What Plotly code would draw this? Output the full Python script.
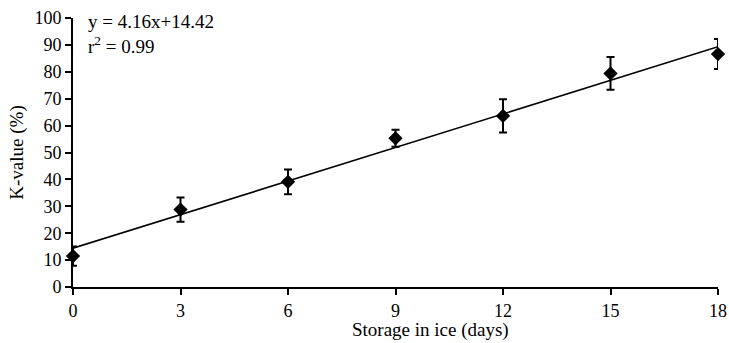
import plotly.graph_objects as go

days = [0, 3, 6, 9, 12, 15, 18]
k_value = [11.5, 28.8, 39.1, 55.3, 63.6, 79.4, 86.6]
k_err = [3.6, 4.5, 4.6, 3.2, 6.2, 6.1, 5.6]
slope = 4.16
intercept = 14.42
fit_x = [0, 18]
fit_y = [intercept + slope * x for x in fit_x]
x_ticks = [0, 3, 6, 9, 12, 15, 18]
y_ticks = list(range(0, 101, 10))

font = "Liberation Serif"

fig = go.Figure()
fig.add_trace(go.Scatter(x=fit_x, y=fit_y, mode="lines",
                         line=dict(color="black", width=1.6), showlegend=False,
                         cliponaxis=False))
fig.add_trace(go.Scatter(x=days, y=k_value, mode="markers",
                         marker=dict(symbol="diamond", size=11, color="black"),
                         error_y=dict(type="data", array=k_err, visible=True,
                                      color="black", thickness=2, width=4),
                         showlegend=False, cliponaxis=False))

fig.add_annotation(x=0, y=1.0, xref="paper", yref="paper", xanchor="left", yanchor="top",
                   xshift=13, yshift=9, showarrow=False, align="left",
                   text="y = 4.16x+14.42<br>r<sup>2</sup> = 0.99",
                   font=dict(family=font, size=19, color="black"))

# x-axis title (sits right of centre in the reference)
fig.add_annotation(x=0.555, y=0, xref="paper", yref="paper", xanchor="center", yanchor="top",
                   yshift=-30, showarrow=False, text="Storage in ice (days)",
                   font=dict(family=font, size=19, color="black"))

fig.update_layout(
    width=729, height=343,
    margin=dict(l=73, r=11, t=18, b=56),
    paper_bgcolor="white", plot_bgcolor="white",
    font=dict(family=font, size=18, color="black"),
)
fig.update_xaxes(range=[0, 18], tickvals=x_ticks, showgrid=False, zeroline=False,
                 showline=True, linecolor="black", linewidth=2, automargin=False,
                 ticks="outside", ticklen=6, tickwidth=2, tickcolor="black",
                 ticklabeloverflow="allow", tickfont=dict(size=18))
fig.update_yaxes(range=[0, 100], tickvals=y_ticks, showgrid=False, zeroline=False,
                 showline=True, linecolor="black", linewidth=2, automargin=False,
                 ticks="outside", ticklen=6, tickwidth=2, tickcolor="black",
                 title=dict(text="K-value (%)", standoff=6, font=dict(size=19)),
                 tickfont=dict(size=18))

fig.write_html("out.html", config={"displayModeBar": False},
               post_script="document.body.style.margin='0';document.body.style.overflow='hidden';")
